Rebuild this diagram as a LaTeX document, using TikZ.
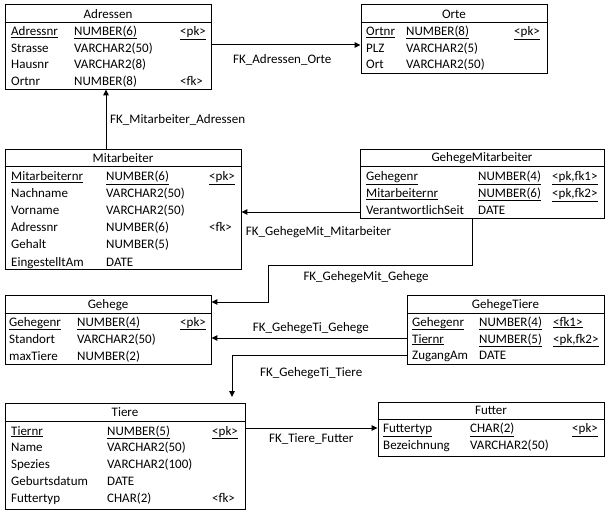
\documentclass[tikz,border=0pt]{standalone}
\usepackage{fontspec}
\setmainfont{Carlito}
\usetikzlibrary{arrows.meta,fit}
\newcommand\ertable[8]{% #1 name, #2 x1, #3 y1, #4 x2, #5 y2, #6 sep y, #7 title, #8 title baseline
  \coordinate (#1-nw) at (#2,#3);
  \coordinate (#1-se) at (#4,#5);
  \node[tbl, fit=(#1-nw)(#1-se)] (#1) {};
  \draw[tblline] (#1.west |- 0,#6) -- (#1.east |- 0,#6);
  \node[hd] (#1-title) at ({(#2+#4)/2},#8) {#7};
}
\newcommand\errow[9]{% #1 table, #2 row id, #3 baseline, #4 x1, #5 t1, #6 x2, #7 t2, #8 x3, #9 t3
  \node[txt] (#1-#2a) at (#4,#3) {#5};
  \node[txt] (#1-#2b) at (#6,#3) {#7};
  \node[txt] (#1-#2c) at (#8,#3) {#9};
}
\newcommand\ul[1]{\underline{#1}}
\begin{document}
\begin{tikzpicture}[x=1pt,y=-1pt,
  font=\fontsize{13}{15}\selectfont,
  tbl/.style={draw=black, line width=0.9pt, inner sep=0pt},
  tblline/.style={draw=black, line width=0.9pt},
  txt/.style={anchor=base west, inner sep=0pt},
  hd/.style={anchor=base, inner sep=0pt},
  fk/.style={draw=black, line width=1pt, -{Triangle[length=6pt,width=5.5pt]}},
  lbl/.style={anchor=base west, inner sep=0pt}]
\useasboundingbox (0,0) rectangle (607,513);

% Adressen
\ertable{adr}{5}{4}{211}{89}{22}{Adressen}{18.3}
\errow{adr}{1}{35.3}{11}{\ul{Adressnr}}{74}{\ul{NUMBER(6)}}{180}{\ul{<pk>}}
\errow{adr}{2}{52.1}{11}{Strasse}{74}{VARCHAR2(50)}{180}{}
\errow{adr}{3}{68.9}{11}{Hausnr}{74}{VARCHAR2(8)}{180}{}
\errow{adr}{4}{85.7}{11}{Ortnr}{74}{NUMBER(8)}{180}{<fk>}

% Orte
\ertable{ort}{361}{4}{547}{73}{22}{Orte}{18.3}
\errow{ort}{1}{35.3}{366}{\ul{Ortnr}}{406}{\ul{NUMBER(8)}}{514}{\ul{<pk>}}
\errow{ort}{2}{52.1}{366}{PLZ}{406}{VARCHAR2(5)}{514}{}
\errow{ort}{3}{68.9}{366}{Ort}{406}{VARCHAR2(50)}{514}{}

% Mitarbeiter
\ertable{mit}{5}{149}{241}{269}{166}{Mitarbeiter}{162.7}
\errow{mit}{1}{180.5}{11}{\ul{Mitarbeiternr}}{106}{\ul{NUMBER(6)}}{209}{\ul{<pk>}}
\errow{mit}{2}{197.6}{11}{Nachname}{106}{VARCHAR2(50)}{209}{}
\errow{mit}{3}{214.7}{11}{Vorname}{106}{VARCHAR2(50)}{209}{}
\errow{mit}{4}{231.8}{11}{Adressnr}{106}{NUMBER(6)}{209}{<fk>}
\errow{mit}{5}{248.9}{11}{Gehalt}{106}{NUMBER(5)}{209}{}
\errow{mit}{6}{266}{11}{EingestelltAm}{106}{DATE}{209}{}

% GehegeMitarbeiter
\ertable{gm}{360}{149}{604}{218}{166}{GehegeMitarbeiter}{161.7}
\errow{gm}{1}{180.7}{366}{\ul{Gehegenr}}{478}{\ul{NUMBER(4)}}{552}{\ul{<pk,fk1>}}
\errow{gm}{2}{197.3}{366}{\ul{Mitarbeiternr}}{478}{\ul{NUMBER(6)}}{552}{\ul{<pk,fk2>}}
\errow{gm}{3}{214}{366}{VerantwortlichSeit}{478}{DATE}{552}{}

% Gehege
\ertable{geh}{5}{295}{211}{364}{313}{Gehege}{308.3}
\errow{geh}{1}{326}{9}{\ul{Gehegenr}}{77}{\ul{NUMBER(4)}}{180}{\ul{<pk>}}
\errow{geh}{2}{343}{9}{Standort}{77}{VARCHAR2(50)}{180}{}
\errow{geh}{3}{360}{9}{maxTiere}{77}{NUMBER(2)}{180}{}

% GehegeTiere
\ertable{gt}{407}{295}{604}{364}{313}{GehegeTiere}{308.3}
\errow{gt}{1}{326}{412}{\ul{Gehegenr}}{479}{\ul{NUMBER(4)}}{553}{\ul{<fk1>}}
\errow{gt}{2}{343}{412}{\ul{Tiernr}}{479}{\ul{NUMBER(5)}}{553}{\ul{<pk,fk2>}}
\errow{gt}{3}{359.5}{412}{ZugangAm}{479}{DATE}{553}{}

% Tiere
\ertable{tie}{5}{403}{245}{509}{421.5}{Tiere}{416.7}
\errow{tie}{1}{435}{11}{\ul{Tiernr}}{107}{\ul{NUMBER(5)}}{212}{\ul{<pk>}}
\errow{tie}{2}{451.7}{11}{Name}{107}{VARCHAR2(50)}{212}{}
\errow{tie}{3}{468.4}{11}{Spezies}{107}{VARCHAR2(100)}{212}{}
\errow{tie}{4}{485.5}{11}{Geburtsdatum}{107}{DATE}{212}{}
\errow{tie}{5}{502.3}{11}{Futtertyp}{107}{CHAR(2)}{212}{<fk>}

% Futter
\ertable{fut}{378}{402}{604}{456}{419}{Futter}{414}
\errow{fut}{1}{432.7}{383}{\ul{Futtertyp}}{470}{\ul{CHAR(2)}}{572}{\ul{<pk>}}
\errow{fut}{2}{449.3}{383}{Bezeichnung}{470}{VARCHAR2(50)}{572}{}

% connectors
\draw[fk] (adr.east |- 0,45) -- (ort.west |- 0,45);
\node[lbl] (l1) at (233,63.5) {FK\_Adressen\_Orte};

\draw[fk] (mit.north -| 106,0) -- (adr.south -| 106,0);
\node[lbl] (l2) at (110,123.5) {FK\_Mitarbeiter\_Adressen};

\draw[fk] (gm.west |- 0,212) -- (mit.east |- 0,212);
\node[lbl] (l3) at (245.7,235) {FK\_GehegeMit\_Mitarbeiter};

\coordinate (b1) at (472,265);
\coordinate (b2) at (268,265);
\coordinate (b3) at (268,302);
\draw[fk] (gm.south -| b1) -- (b1) -- (b2) -- (b3) -- (geh.east |- b3);
\node[lbl] (l4) at (303.3,280) {FK\_GehegeMit\_Gehege};

\draw[fk] (gt.west |- 0,338) -- (geh.east |- 0,338);
\node[lbl] (l5) at (252.7,331.7) {FK\_GehegeTi\_Gehege};

\coordinate (c1) at (232,355);
\coordinate (c2) at (232,397);
\draw[fk] (gt.west |- c1) -- (c1) -- (c2);
\node[lbl] (l6) at (260,376.7) {FK\_GehegeTi\_Tiere};

\draw[fk] (tie.east |- 0,428) -- (fut.west |- 0,428);
\node[lbl] (l7) at (269,442) {FK\_Tiere\_Futter};
\end{tikzpicture}
\end{document}
